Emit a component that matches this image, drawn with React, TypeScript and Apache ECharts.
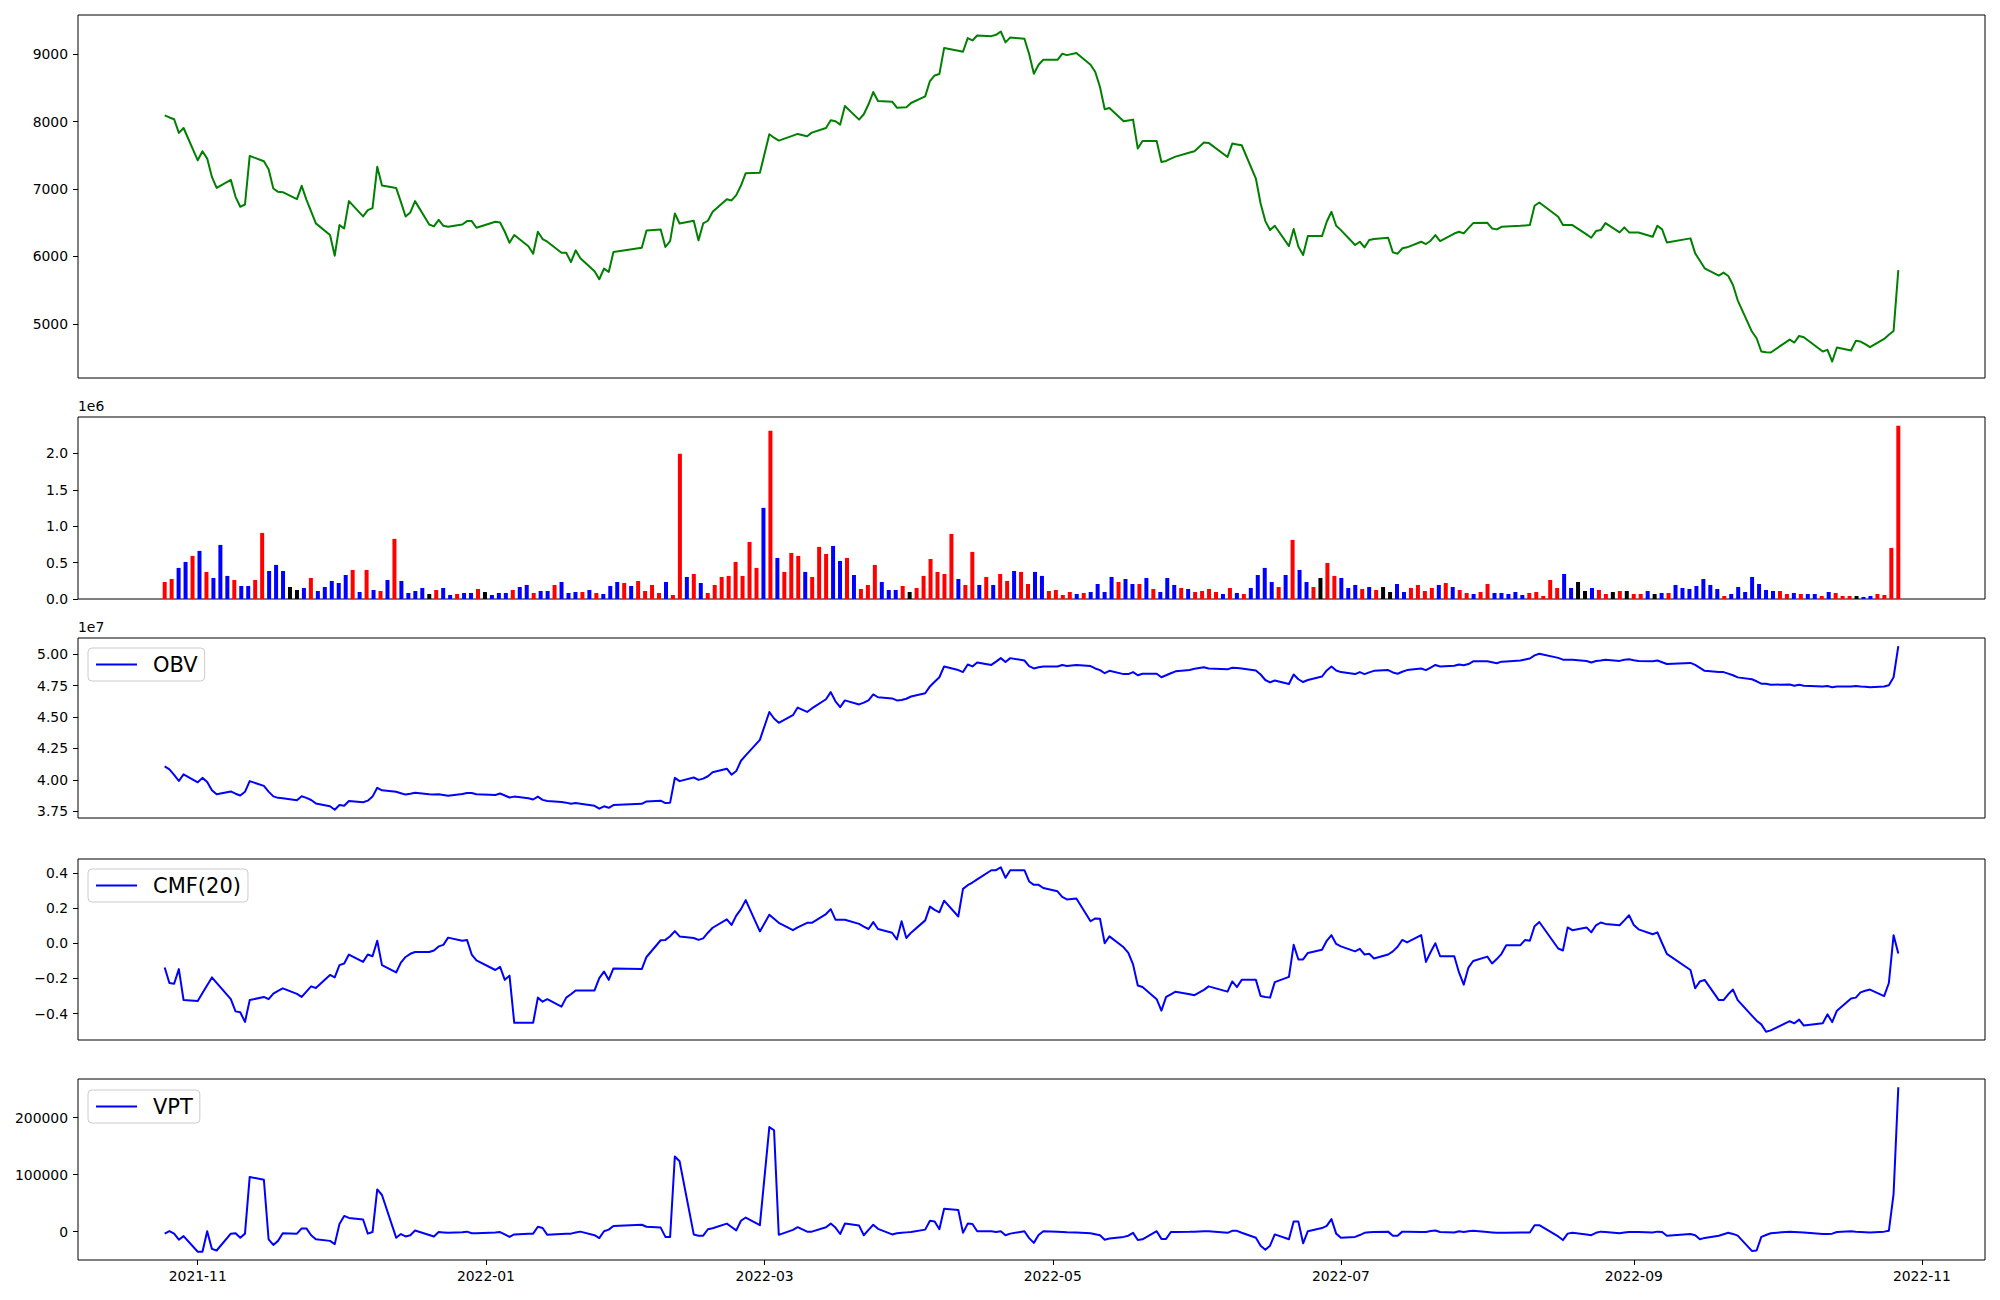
import React, { useEffect, useRef } from "react";
import * as echarts from "echarts";

// ---------------- DATA ----------------
const START_DATE = "2021-10-25";
const END_DATE = "2022-10-27";
const KRX_HOLIDAYS = [
  "2021-12-31", "2022-01-31", "2022-02-01", "2022-02-02", "2022-03-01", "2022-03-09",
  "2022-05-05", "2022-06-01", "2022-06-06", "2022-08-15", "2022-09-09", "2022-09-12",
  "2022-10-03", "2022-10-10",
];
const X_TICKS = ["2021-11-01", "2022-01-01", "2022-03-01", "2022-05-01", "2022-07-01", "2022-09-01", "2022-11-01"];

const closePrice = [
  8092, 8060, 8033, 7831, 7904, 7425, 7559, 7450, 7179, 7016,
  7135, 6884, 6736, 6770, 7490, 7411, 7293, 7007, 6958, 6953,
  6850, 7047, 6843, 6667, 6490, 6317, 6011, 6465, 6415, 6820,
  6593, 6687, 6716, 7328, 7051, 7016, 6809, 6592, 6652, 6820,
  6474, 6445, 6543, 6454, 6440, 6474, 6524, 6524, 6425, 6514,
  6504, 6366, 6203, 6317, 6150, 6041, 6366, 6258, 6218, 6055,
  6055, 5917, 6090, 5972, 5780, 5662, 5820, 5771, 6066, 6130,
  6386, 6401, 6140, 6228, 6638, 6489, 6529, 6238, 6489, 6529,
  6662, 6849, 6830, 6908, 7051, 7234, 7239, 7811, 7760, 7717,
  7790, 7816, 7781, 7835, 7904, 8018, 8003, 7954, 8230, 8028,
  8107, 8255, 8437, 8304, 8294, 8205, 8207, 8210, 8274, 8373,
  8600, 8683, 8703, 9088, 9050, 9034, 9236, 9201, 9275, 9265,
  9285, 9334, 9172, 9246, 9226, 9000, 8708, 8841, 8915, 8915,
  9004, 8984, 9014, 8841, 8733, 8511, 8181, 8200, 8003, 8015,
  8028, 7599, 7712, 7712, 7401, 7416, 7450, 7480, 7540, 7559,
  7688, 7683, 7475, 7673, 7660, 7648, 7155, 6785, 6524, 6391,
  6455, 6154, 6406, 6144, 6021, 6302, 6302, 6514, 6662, 6455,
  6390, 6169, 6218, 6135, 6243, 6260, 6277, 6060, 6041, 6120,
  6135, 6218, 6184, 6233, 6317, 6228, 6340, 6366, 6342, 6420,
  6494, 6499, 6415, 6401, 6440, 6445, 6455, 6460, 6465, 6751,
  6800, 6588, 6465, 6465, 6465, 6327, 6277, 6376, 6391, 6494,
  6356, 6430, 6356, 6356, 6356, 6292, 6455, 6401, 6208, 6268,
  6046, 5935, 5824, 5716, 5760, 5711, 5578, 5350, 4887, 4788,
  4591, 4580, 4576, 4768, 4724, 4822, 4803, 4591, 4616, 4443,
  4650, 4606, 4749, 4739, 4700, 4655, 4778, 4840, 4896, 5798,
];

const volume = [
  234000, 275000, 427000, 509000, 592000, 661000, 372000, 289000, 743000, 317000,
  261000, 179000, 179000, 261000, 908000, 385000, 468000, 385000, 165000, 124000,
  151000, 289000, 110000, 165000, 248000, 220000, 330000, 399000, 96000, 399000,
  124000, 110000, 261000, 826000, 248000, 83000, 110000, 151000, 69000, 124000,
  151000, 55000, 69000, 83000, 83000, 138000, 96000, 55000, 83000, 83000,
  124000, 165000, 193000, 83000, 110000, 110000, 193000, 234000, 83000, 96000,
  96000, 124000, 83000, 69000, 179000, 234000, 220000, 179000, 248000, 110000,
  193000, 83000, 234000, 55000, 1995000, 303000, 344000, 220000, 83000, 193000,
  303000, 317000, 509000, 317000, 784000, 427000, 1252000, 2312000, 564000, 372000,
  633000, 592000, 372000, 303000, 716000, 619000, 729000, 523000, 564000, 330000,
  138000, 193000, 468000, 234000, 124000, 124000, 179000, 96000, 151000, 317000,
  550000, 372000, 344000, 894000, 275000, 193000, 647000, 193000, 303000, 193000,
  344000, 248000, 385000, 372000, 206000, 372000, 317000, 110000, 124000, 55000,
  96000, 69000, 83000, 96000, 206000, 96000, 303000, 234000, 275000, 206000,
  206000, 289000, 138000, 96000, 289000, 193000, 151000, 138000, 96000, 110000,
  138000, 96000, 69000, 151000, 83000, 69000, 151000, 330000, 427000, 234000,
  165000, 330000, 812000, 399000, 234000, 165000, 289000, 495000, 317000, 289000,
  151000, 193000, 138000, 165000, 124000, 165000, 96000, 206000, 96000, 151000,
  193000, 110000, 151000, 193000, 220000, 165000, 124000, 83000, 69000, 96000,
  206000, 83000, 83000, 69000, 96000, 55000, 83000, 96000, 41000, 261000,
  151000, 344000, 151000, 234000, 110000, 151000, 124000, 69000, 96000, 110000,
  110000, 69000, 69000, 110000, 69000, 83000, 83000, 193000, 151000, 138000,
  179000, 275000, 193000, 138000, 41000, 69000, 165000, 96000, 303000, 206000,
  124000, 110000, 110000, 69000, 83000, 69000, 69000, 69000, 41000, 96000,
  83000, 41000, 41000, 41000, 28000, 41000, 69000, 55000, 702000, 2381000,
];

// candle direction of each day: R = up (red), B = down (blue), K = unchanged (black)
const candleDirection =
  "RRBBRBRBBB" + "RBBRRBBBKK" + "BRBBBBBRBR" + "BRBRBBBBKR" + "BBRBBRKBBB" +
  "RBBRBBRBBB" + "RBRBBBRBRR" + "RRBRRBRBRR" + "RRRRRRBRBR" + "RRBRRRBBRB" +
  "RRRBBBRKRR" + "RRRRBRRBRB" + "RRBRRBBRRR" + "RBRBBBBRBB" + "RBRBBBRBRR" +
  "RRBRBRBBBB" + "RBRBBRKRRB" + "BBRBRKKBBR" + "RRRBRBRRBR" + "RBBBBBRRRR" +
  "RBBKKBRRKR" + "KRRBKBRBBB" + "BBBBRBBBBB" + "BBRRBRBBRB" + "RRRKBBRRRR";

const obv = [
  4.108e7, 4.083e7, 4.040e7, 3.991e7, 4.044e7, 3.981e7, 4.016e7, 3.984e7, 3.917e7, 3.886e7,
  3.908e7, 3.890e7, 3.876e7, 3.905e7, 3.990e7, 3.952e7, 3.907e7, 3.869e7, 3.857e7, 3.854e7,
  3.838e7, 3.870e7, 3.857e7, 3.840e7, 3.813e7, 3.790e7, 3.762e7, 3.800e7, 3.794e7, 3.832e7,
  3.822e7, 3.835e7, 3.867e7, 3.937e7, 3.917e7, 3.905e7, 3.894e7, 3.883e7, 3.890e7, 3.898e7,
  3.885e7, 3.883e7, 3.886e7, 3.880e7, 3.873e7, 3.887e7, 3.895e7, 3.895e7, 3.886e7, 3.880e7,
  3.892e7, 3.876e7, 3.860e7, 3.867e7, 3.854e7, 3.844e7, 3.867e7, 3.841e7, 3.832e7, 3.825e7,
  3.819e7, 3.810e7, 3.816e7, 3.810e7, 3.794e7, 3.771e7, 3.790e7, 3.778e7, 3.800e7, 3.810e7,
  3.829e7, 3.835e7, 3.816e7, 3.819e7, 4.016e7, 3.990e7, 4.019e7, 4.000e7, 4.010e7, 4.029e7,
  4.060e7, 4.089e7, 4.041e7, 4.070e7, 4.152e7, 4.195e7, 4.318e7, 4.540e7, 4.488e7, 4.454e7,
  4.514e7, 4.575e7, 4.540e7, 4.568e7, 4.641e7, 4.698e7, 4.625e7, 4.578e7, 4.632e7, 4.600e7,
  4.614e7, 4.632e7, 4.679e7, 4.657e7, 4.648e7, 4.632e7, 4.635e7, 4.645e7, 4.663e7, 4.689e7,
  4.743e7, 4.780e7, 4.816e7, 4.902e7, 4.873e7, 4.857e7, 4.917e7, 4.902e7, 4.933e7, 4.914e7,
  4.940e7, 4.968e7, 4.937e7, 4.968e7, 4.949e7, 4.905e7, 4.886e7, 4.895e7, 4.902e7, 4.902e7,
  4.914e7, 4.905e7, 4.914e7, 4.905e7, 4.886e7, 4.873e7, 4.848e7, 4.867e7, 4.841e7, 4.841e7,
  4.857e7, 4.832e7, 4.844e7, 4.844e7, 4.816e7, 4.832e7, 4.848e7, 4.863e7, 4.873e7, 4.883e7,
  4.895e7, 4.886e7, 4.879e7, 4.892e7, 4.889e7, 4.886e7, 4.870e7, 4.838e7, 4.794e7, 4.775e7,
  4.790e7, 4.762e7, 4.838e7, 4.800e7, 4.778e7, 4.794e7, 4.822e7, 4.870e7, 4.902e7, 4.870e7,
  4.857e7, 4.841e7, 4.857e7, 4.841e7, 4.855e7, 4.867e7, 4.873e7, 4.854e7, 4.844e7, 4.860e7,
  4.873e7, 4.886e7, 4.873e7, 4.893e7, 4.914e7, 4.902e7, 4.908e7, 4.917e7, 4.911e7, 4.921e7,
  4.943e7, 4.943e7, 4.935e7, 4.927e7, 4.940e7, 4.942e7, 4.949e7, 4.957e7, 4.965e7, 4.990e7,
  5.003e7, 4.970e7, 4.956e7, 4.956e7, 4.956e7, 4.945e7, 4.933e7, 4.945e7, 4.950e7, 4.956e7,
  4.946e7, 4.955e7, 4.959e7, 4.952e7, 4.946e7, 4.943e7, 4.949e7, 4.935e7, 4.921e7, 4.930e7,
  4.914e7, 4.890e7, 4.867e7, 4.857e7, 4.857e7, 4.845e7, 4.832e7, 4.815e7, 4.800e7, 4.784e7,
  4.765e7, 4.765e7, 4.756e7, 4.759e7, 4.749e7, 4.756e7, 4.749e7, 4.743e7, 4.746e7, 4.737e7,
  4.743e7, 4.743e7, 4.746e7, 4.742e7, 4.740e7, 4.737e7, 4.743e7, 4.752e7, 4.816e7, 5.063e7,
];

const cmf20 = [
  -0.138, -0.226, -0.230, -0.147, -0.323, -0.328, -0.283, -0.239, -0.194, -0.225,
  -0.318, -0.387, -0.392, -0.447, -0.323, -0.305, -0.318, -0.286, -0.271, -0.256,
  -0.288, -0.305, -0.275, -0.245, -0.254, -0.180, -0.194, -0.124, -0.115, -0.064,
  -0.106, -0.064, -0.074, 0.014, -0.124, -0.166, -0.110, -0.078, -0.060, -0.050,
  -0.050, -0.041, -0.018, -0.009, 0.032, 0.014, 0.019, -0.064, -0.097, -0.152,
  -0.134, -0.208, -0.184, -0.452, -0.452, -0.452, -0.309, -0.332, -0.318, -0.360,
  -0.309, -0.290, -0.268, -0.268, -0.268, -0.198, -0.161, -0.208, -0.143, -0.147,
  -0.078, 0.017, 0.019, 0.040, 0.069, 0.039, 0.030, 0.019, 0.028, 0.060,
  0.088, 0.136, 0.104, 0.157, 0.194, 0.245, 0.067, 0.162, 0.139, 0.116,
  0.074, 0.090, 0.116, 0.116, 0.166, 0.194, 0.134, 0.134, 0.134, 0.110,
  0.095, 0.081, 0.120, 0.081, 0.060, 0.021, 0.125, 0.030, 0.060, 0.130,
  0.208, 0.190, 0.176, 0.242, 0.152, 0.309, 0.330, 0.345, 0.363, 0.415,
  0.415, 0.432, 0.372, 0.415, 0.415, 0.351, 0.332, 0.332, 0.314, 0.295,
  0.263, 0.249, 0.254, 0.125, 0.141, 0.139, 0.000, 0.039, -0.023, -0.055,
  -0.120, -0.240, -0.249, -0.318, -0.383, -0.305, -0.290, -0.275, -0.290, -0.295,
  -0.265, -0.245, -0.275, -0.217, -0.249, -0.208, -0.208, -0.300, -0.305, -0.309,
  -0.221, -0.191, -0.009, -0.092, -0.092, -0.055, -0.037, 0.014, 0.046, -0.004,
  -0.018, -0.046, -0.032, -0.064, -0.060, -0.087, -0.064, -0.046, -0.020, 0.019,
  0.005, 0.046, -0.106, -0.050, 0.000, -0.074, -0.074, -0.166, -0.235, -0.138,
  -0.101, -0.076, -0.115, -0.090, -0.060, -0.011, -0.011, 0.019, 0.014, 0.097,
  0.121, -0.030, -0.041, 0.090, 0.074, 0.090, 0.062, 0.102, 0.118, 0.110,
  0.102, 0.130, 0.159, 0.104, 0.079, 0.051, 0.062, 0.000, -0.060, -0.152,
  -0.256, -0.217, -0.208, -0.323, -0.323, -0.290, -0.263, -0.323, -0.411, -0.440,
  -0.461, -0.503, -0.495, -0.443, -0.455, -0.434, -0.468, -0.455, -0.404, -0.448,
  -0.383, -0.314, -0.309, -0.279, -0.270, -0.263, -0.300, -0.226, 0.046, -0.058,
];

const vpt = [
  -3500, 700, -3500, -14100, -7800, -35300, -35300, 700, -30300, -33100,
  -3500, -2800, -10600, -3500, 95900, 90900, -13400, -23300, -16200, -2800,
  -3500, 5600, 5600, -6300, -13400, -16200, -21900, 13400, 27500, 24000,
  21200, -3500, -700, 74000, 64200, -10600, -4200, -8500, -6300, 2100,
  -6000, -8500, -700, -1400, -2100, -1000, 0, -2800, -2800, -1500,
  -700, -5000, -9200, -4900, -3500, -3500, 8500, 6300, -5600, -4000,
  -3500, -3500, -1500, 0, -6300, -11300, 700, 3500, 9900, 12000,
  8500, 7100, -9200, -9200, 131800, 123400, -4900, -7100, -7100, 4200,
  6000, 14100, 8100, 2100, 19000, 24700, 11300, 183300, 177700, -5600,
  3000, 7800, 0, 0, 7800, 14100, 7100, -4200, 14100, 10600,
  -6300, 3000, 12000, 4900, -4900, -2800, -2000, -1300, -700, 3500,
  19000, 17600, 4200, 40200, 38100, -2100, 14100, 13400, 700, 700,
  -700, 700, -6300, -3500, 700, -11300, -19700, -6000, 700, 0,
  -500, -1000, -1500, -2800, -4500, -6300, -14100, -12000, -9200, -7100,
  -2100, -14800, -13400, 700, -12700, -12700, -700, -500, -300, 0,
  700, 500, -2100, 1400, 1400, -2000, -10600, -24700, -31700, -24700,
  -4900, -13400, 17600, 17600, -20400, 700, 6300, 10000, 21900, -3500,
  -10600, -9200, -6000, -2100, -1000, -700, 0, -7100, -7100, 0,
  0, -700, -700, 1000, 2100, -700, -1400, 700, -700, 700,
  1400, -700, -1400, -2100, -1800, -1800, -1400, -1400, -1400, 11300,
  11300, -8500, -14800, -3500, -2100, -4900, -6300, -2100, 0, -500,
  -2800, -1400, -700, -700, -800, -1400, 0, -700, -7100, -4200,
  -6300, -13400, -11000, -7100, -4500, -2100, -4000, -7100, -33800, -33100,
  -9200, -6000, -2800, 0, -500, -1000, -1400, -4200, -4000, -3500,
  -700, 700, 0, -500, -1000, -1400, 0, 1400, 66300, 253100,
];

const PRICE_TICKS = [5000, 6000, 7000, 8000, 9000];
const VOLUME_TICKS = [0, 500000, 1000000, 1500000, 2000000];
const OBV_TICKS = [3.75e7, 4.0e7, 4.25e7, 4.5e7, 4.75e7, 5.0e7];
const CMF_TICKS = [-0.4, -0.2, 0, 0.2, 0.4];
const VPT_TICKS = [0, 100000, 200000];

// ---------------- HELPERS ----------------
function parseLocal(s: string): Date {
  const [y, m, d] = s.split("-").map(Number);
  return new Date(y, m - 1, d);
}
function keyOf(d: Date): string {
  return `${d.getFullYear()}-${String(d.getMonth() + 1).padStart(2, "0")}-${String(d.getDate()).padStart(2, "0")}`;
}
function tradingDays(): number[] {
  const hol = new Set(KRX_HOLIDAYS);
  const out: number[] = [];
  const d = parseLocal(START_DATE);
  const end = parseLocal(END_DATE);
  while (d.getTime() <= end.getTime()) {
    const wd = d.getDay();
    if (wd !== 0 && wd !== 6 && !hol.has(keyOf(d))) out.push(d.getTime());
    d.setDate(d.getDate() + 1);
  }
  return out;
}

const FONT = "DejaVu Sans";
const TICK_FS = 13.9;
const MINUS = "\u2212";
const fmtMinus = (s: string) => s.replace("-", MINUS);

export default function App() {
  const ref = useRef<HTMLDivElement>(null);

  useEffect(() => {
    if (!ref.current) return;
    const chart = echarts.init(ref.current, undefined, { renderer: "svg" });
    const dates = tradingDays();
    const n = dates.length;
    const span = dates[n - 1] - dates[0];
    const xMin = dates[0] - 0.05 * span;
    const xMax = dates[n - 1] + 0.05 * span;
    const xTickValues = X_TICKS.map((s) => parseLocal(s).getTime());
    // the volume panel of the reference spaces its bars evenly between the first and last day
    const barPositions = dates.map((_, i) => dates[0] + (i * span) / (n - 1));

    const left = 78;
    const width = 1907;
    const gridDefs = [
      { top: 15, height: 363 },
      { top: 417, height: 182 },
      { top: 638, height: 180 },
      { top: 859, height: 181 },
      { top: 1079, height: 181 },
    ];
    const grids = gridDefs.map((g) => ({
      left, width, top: g.top, height: g.height,
      show: true, borderColor: "#000", borderWidth: 1, backgroundColor: "transparent",
      containLabel: false,
    }));

    const xAxes = gridDefs.map((_, k) => {
      const isBottom = k === gridDefs.length - 1;
      return {
        type: "value",
        gridIndex: k,
        position: "bottom",
        min: xMin,
        max: xMax,
        scale: true,
        show: isBottom,
        axisLine: { show: false, onZero: false },
        splitLine: { show: false },
        axisTick: {
          show: isBottom, length: 5, inside: false,
          lineStyle: { color: "#000", width: 1 },
          customValues: xTickValues,
        },
        axisLabel: {
          show: isBottom, color: "#000", fontSize: TICK_FS, fontFamily: FONT, margin: 9,
          customValues: xTickValues,
          showMinLabel: true,
          showMaxLabel: true,
          formatter: (v: number) => {
            const d = new Date(v);
            return `${d.getFullYear()}-${String(d.getMonth() + 1).padStart(2, "0")}`;
          },
        },
      };
    });

    const spanOf = (v: { min: number; max: number }) => v.max - v.min;
    const yBase = (k: number, ticks: number[], fmt: (v: number) => string, extra: any = {}) => ({
      type: "value",
      gridIndex: k,
      position: "left",
      scale: true,
      splitLine: { show: false },
      axisLine: { show: false, onZero: false },
      axisTick: { show: true, length: 5, inside: false, lineStyle: { color: "#000", width: 1 }, customValues: ticks },
      axisLabel: { color: "#000", fontSize: TICK_FS, fontFamily: FONT, margin: 10, customValues: ticks, formatter: fmt },
      ...extra,
    });

    const yAxes = [
      yBase(0, PRICE_TICKS, (v) => String(Math.round(v)), {
        min: (v: any) => v.min - 0.05 * spanOf(v),
        max: (v: any) => v.max + 0.05 * spanOf(v),
      }),
      yBase(1, VOLUME_TICKS, (v) => (v / 1e6).toFixed(1), {
        min: 0,
        max: (v: any) => v.max * 1.05,
        name: "1e6",
        nameLocation: "end",
        nameGap: 4,
        nameTextStyle: { align: "left", verticalAlign: "bottom", fontSize: TICK_FS, fontFamily: FONT, color: "#000" },
      }),
      yBase(2, OBV_TICKS, (v) => (v / 1e7).toFixed(2), {
        min: (v: any) => v.min - 0.05 * spanOf(v),
        max: (v: any) => v.max + 0.05 * spanOf(v),
        name: "1e7",
        nameLocation: "end",
        nameGap: 4,
        nameTextStyle: { align: "left", verticalAlign: "bottom", fontSize: TICK_FS, fontFamily: FONT, color: "#000" },
      }),
      yBase(3, CMF_TICKS, (v) => fmtMinus(v.toFixed(1)), {
        min: (v: any) => v.min - 0.05 * spanOf(v),
        max: (v: any) => v.max + 0.05 * spanOf(v),
      }),
      yBase(4, VPT_TICKS, (v) => String(Math.round(v)), {
        min: (v: any) => v.min - 0.05 * spanOf(v),
        max: (v: any) => v.max + 0.05 * spanOf(v),
      }),
    ];

    const colorOf: Record<string, string> = { R: "#ff0000", B: "#0000ff", K: "#000000" };
    const pairs = (arr: number[]) => dates.map((t, i) => [t, arr[i]]);

    const lineSeries = (name: string, k: number, arr: number[], color: string) => ({
      name,
      type: "line",
      xAxisIndex: k,
      yAxisIndex: k,
      data: pairs(arr),
      showSymbol: false,
      symbol: "none",
      smooth: false,
      lineStyle: { color, width: 2, join: "round", cap: "butt" },
      itemStyle: { color },
      emphasis: { disabled: true },
    });

    const legendBase = (name: string, top: number) => ({
      data: [name],
      left: 88,
      top,
      orient: "horizontal",
      icon: "rect",
      itemWidth: 41,
      itemHeight: 2,
      itemGap: 0,
      selectedMode: false,
      backgroundColor: "rgba(255,255,255,0.8)",
      borderColor: "#cccccc",
      borderWidth: 1,
      borderRadius: 4,
      padding: [6, 7, 6, 8],
      textStyle: { fontSize: 21, fontFamily: FONT, color: "#000", padding: [0, 0, 0, 11] },
    });

    const option: any = {
      animation: false,
      backgroundColor: "#ffffff",
      textStyle: { fontFamily: FONT },
      grid: grids,
      xAxis: xAxes,
      yAxis: yAxes,
      legend: [legendBase("OBV", 648), legendBase("CMF(20)", 869), legendBase("VPT", 1090)],
      series: [
        lineSeries("Close", 0, closePrice, "#008000"),
        {
          name: "Volume",
          type: "bar",
          xAxisIndex: 1,
          yAxisIndex: 1,
          barWidth: 4,
          emphasis: { disabled: true },
          data: barPositions.map((t, i) => ({
            value: [t, volume[i]],
            itemStyle: { color: colorOf[candleDirection[i]] },
          })),
        },
        lineSeries("OBV", 2, obv, "#0000ff"),
        lineSeries("CMF(20)", 3, cmf20, "#0000ff"),
        lineSeries("VPT", 4, vpt, "#0000ff"),
      ],
    };

    chart.setOption(option);
    return () => chart.dispose();
  }, []);

  return (
    <div
      ref={ref}
      style={{ position: "absolute", left: 0, top: 0, width: 2000, height: 1300, background: "#ffffff" }}
    />
  );
}
